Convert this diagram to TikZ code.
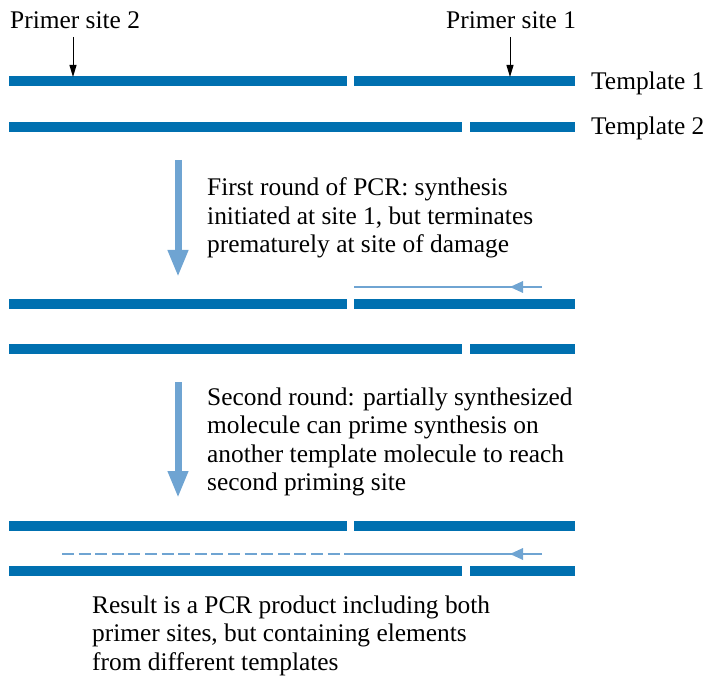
\documentclass[tikz,border=0pt]{standalone}
\usepackage{fontspec}
\setmainfont{Liberation Serif}
\usetikzlibrary{arrows.meta}
\definecolor{dnablue}{RGB}{0,112,176}
\definecolor{lightblue}{RGB}{111,164,210}
\tikzset{
  strand/.style={draw=dnablue, line width=10pt, line cap=butt},
  newstrand/.style={draw=lightblue, line width=2.8pt},
  bigarrow/.style={draw=lightblue, line width=7pt, -{Triangle[length=27pt,width=19pt]}},
  pointer/.style={draw=black, line width=1pt, -{Triangle[length=12pt,width=7pt]}},
  lbl/.style={inner sep=0pt, font=\fontsize{25.4}{28.5}\selectfont, anchor=base west},
  para/.style={inner sep=0pt, font=\fontsize{25.4}{28.5}\selectfont, align=left, anchor=north west}
}
\begin{document}
\begin{tikzpicture}[x=1pt,y=-1pt]
\useasboundingbox (0,0) rectangle (707,676);
% labels top
\node[lbl] (ps2) at (10,29) {Primer site 2};
\node[lbl] (ps1) at (446,29) {Primer site 1};
\node[lbl] (t1) at (591,90) {Template 1};
\node[lbl] (t2) at (591,135) {Template 2};
% coordinates
\coordinate (p2top) at (73,37);
\coordinate (p2bot) at (73,77);
\coordinate (p1top) at (510,37);
\coordinate (p1bot) at (510,77);
% Row 1: template 1
\draw[strand] (9,81) -- (347,81);
\draw[strand] (354,81) -- (575,81);
% Row 2: template 2
\draw[strand] (9,127) -- (462,127);
\draw[strand] (470,127) -- (575,127);
\draw[pointer] (p2top) -- (p2bot);
\draw[pointer] (p1top) -- (p1bot);
% big arrow 1
\coordinate (a1s) at (178,160);
\coordinate (a1e) at (178,277);
\draw[bigarrow] (a1s) -- (a1e);
\node[para] (txt1) at (207,177.5) {First round of PCR: synthesis\\initiated at site 1, but terminates\\prematurely at site of damage};
% Row 3
\draw[strand] (9,304) -- (347,304);
\draw[strand] (354,304) -- (575,304);
\coordinate (n1r) at (542,287);
\coordinate (n1m) at (510,287);
\coordinate (n1l) at (354,287);
\draw[newstrand] (n1r) -- (n1l);
\fill[lightblue] (n1m) -- ++(13,-6) -- ++(0,12) -- cycle;
% Row 4
\draw[strand] (9,349) -- (462,349);
\draw[strand] (470,349) -- (575,349);
% big arrow 2
\coordinate (a2s) at (178,382);
\coordinate (a2e) at (178,498);
\draw[bigarrow] (a2s) -- (a2e);
\node[para] (txt2) at (207,387.5) {Second round: partially synthesized\\molecule can prime synthesis on\\another template molecule to reach\\second priming site};
% Row 5
\draw[strand] (9,526) -- (347,526);
\draw[strand] (354,526) -- (575,526);
% new strand dashed + solid
\coordinate (n2r) at (542,554);
\coordinate (n2m) at (510,554);
\coordinate (n2j) at (345,554);
\coordinate (n2l) at (62,554);
\draw[newstrand] (n2r) -- (n2j);
\draw[newstrand, dash pattern=on 12pt off 4.6pt] (n2l) -- (n2j);
\fill[lightblue] (n2m) -- ++(13,-6) -- ++(0,12) -- cycle;
% Row 6
\draw[strand] (9,571) -- (462,571);
\draw[strand] (470,571) -- (575,571);
\node[para] (txt3) at (92,595.5) {Result is a PCR product including both\\primer sites, but containing elements\\from different templates};
\end{tikzpicture}
\end{document}
